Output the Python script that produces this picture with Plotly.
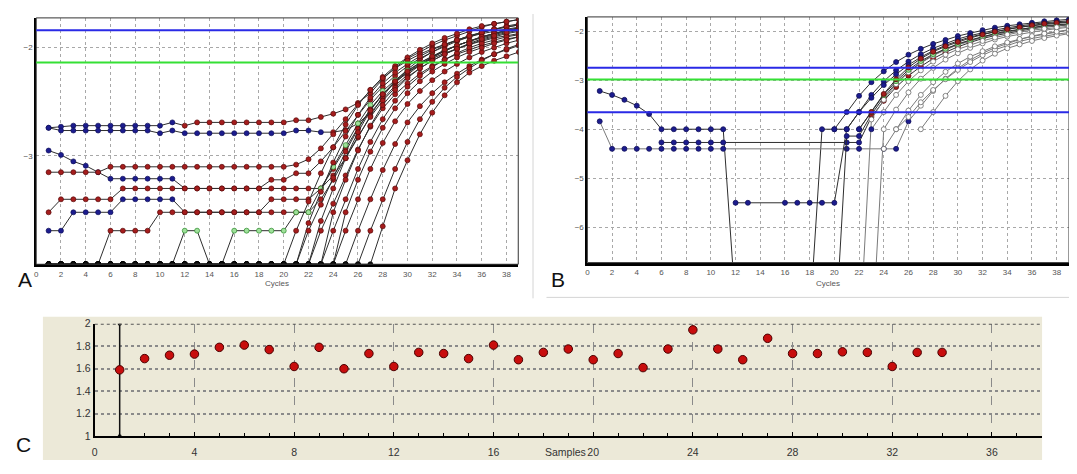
import plotly.graph_objects as go

# ---------------- DATA ----------------
cycles = list(range(1, 40))

# Panel A: log fluorescence per cycle (values at -4.0 lie on the bottom axis)
A1 = [-2.74, -2.73] + [-2.72] * 8 + [-2.69, -2.72] + [-2.69] * 8 + [-2.67, -2.67,
      -2.64, -2.61, -2.57, -2.51, -2.42, -2.29, -2.185, -2.10, -2.04, -1.98, -1.93, -1.89, -1.85, -1.81, -1.78, -1.76, -1.74]
A2 = [-2.74] + [-2.765] * 8 + [-2.79, -2.765] + [-2.79] * 9 + [-2.765, -2.765,
      -2.78, -2.78, -2.76, -2.70, -2.60, -2.47, -2.35, -2.25, -2.16, -2.09, -2.03, -1.98, -1.94, -1.90, -1.87, -1.84, -1.82]
A3 = [-2.95, -2.99, -3.05, -3.09, -3.15] + [-3.21] * 6 + [-3.30] * 12 + [
      -3.18, -3.02, -2.83, -2.63, -2.45, -2.31, -2.20, -2.11, -2.04, -1.98, -1.93, -1.89, -1.86, -1.83, -1.80, -1.78]
A4 = [-3.15] * 5 + [-3.10] * 15 + [-3.08, -3.03,
      -2.93, -2.80, -2.66, -2.52, -2.39, -2.27, -2.17, -2.09, -2.02, -1.96, -1.91, -1.87, -1.83, -1.80, -1.78, -1.76, -1.74]
A5 = [-3.52] + [-3.40] * 5 + [-3.30] * 12 + [-3.22, -3.22, -3.16, -3.16,
      -3.05, -2.92, -2.77, -2.62, -2.48, -2.36, -2.26, -2.17, -2.10, -2.04, -1.99, -1.94, -1.90, -1.86, -1.83, -1.81, -1.79]
A6 = [-3.69, -3.69] + [-3.52] * 4 + [-3.40] * 5 + [-3.52] * 7 + [-3.40] * 4 + [-3.30,
      -3.12, -2.93, -2.74, -2.57, -2.43, -2.32, -2.23, -2.15, -2.09, -2.03, -1.98, -1.94, -1.90, -1.87, -1.84, -1.82]
A7 = [-4.0] * 5 + [-3.69] * 4 + [-3.52] * 13 + [-3.40,
      -3.22, -3.02, -2.82, -2.64, -2.49, -2.37, -2.27, -2.19, -2.12, -2.06, -2.01, -1.97, -1.93, -1.90, -1.87, -1.85]
A8 = [-4.0] * 11 + [-3.69, -3.69, -4.0, -4.0] + [-3.69] * 5 + [-3.52, -3.52,
      -3.30, -3.10, -2.90, -2.70, -2.53, -2.40, -2.30, -2.21, -2.14, -2.08, -2.03, -1.98, -1.94, -1.91, -1.88, -1.85, -1.83]
A9 = [-4.0] * 20 + [-3.69, -3.42, -3.16, -2.92, -2.71, -2.53, -2.39, -2.28, -2.19, -2.12,
      -2.06, -2.01, -1.97, -1.93, -1.90, -1.87, -1.85, -1.83, -1.81]
A10 = [-4.0] * 21 + [-3.62, -3.33, -3.06, -2.82, -2.62, -2.46, -2.33, -2.23, -2.15, -2.08,
       -2.02, -1.97, -1.93, -1.89, -1.86, -1.83, -1.81, -1.79]
A11 = [-4.0] * 21 + [-3.69, -3.45, -3.20, -2.96, -2.75, -2.57, -2.43, -2.32, -2.23, -2.16,
       -2.10, -2.05, -2.01, -1.97, -1.94, -1.91, -1.89, -1.87]
A12 = [-4.0] * 22 + [-3.60, -3.30, -3.02, -2.78, -2.58, -2.43, -2.31, -2.22, -2.14, -2.08,
       -2.02, -1.98, -1.94, -1.90, -1.87, -1.84, -1.82]
A13 = [-4.0] * 22 + [-3.69, -3.44, -3.18, -2.94, -2.73, -2.56, -2.43, -2.33, -2.24, -2.17,
       -2.11, -2.06, -2.02, -1.98, -1.95, -1.92, -1.90]
A14 = [-4.0] * 23 + [-3.69, -3.40, -3.12, -2.87, -2.66, -2.49, -2.36, -2.26, -2.18, -2.11,
       -2.05, -2.00, -1.96, -1.93, -1.90, -1.88]
A15 = [-4.0] * 24 + [-3.69, -3.40, -3.12, -2.88, -2.68, -2.52, -2.40, -2.30, -2.22, -2.15,
       -2.09, -2.04, -2.00, -1.96, -1.93]
A16 = [-4.0] * 24 + [-3.52, -3.22, -2.96, -2.74, -2.56, -2.42, -2.31, -2.22, -2.15, -2.09,
       -2.04, -2.00, -1.96, -1.93, -1.90]
A17 = [-4.0] * 25 + [-3.69, -3.40, -3.13, -2.89, -2.69, -2.54, -2.42, -2.32, -2.24, -2.17,
       -2.11, -2.06, -2.02, -1.98]
A18 = [-4.0] * 26 + [-3.69, -3.40, -3.12, -2.87, -2.66, -2.50, -2.37, -2.27, -2.19, -2.12,
       -2.06, -2.01, -1.97]
A19 = [-4.0] * 27 + [-3.65, -3.30, -3.04, -2.80, -2.60, -2.44, -2.32, -2.23, -2.17, -2.12,
       -2.08, -2.04]
A20 = [-4.0] * 23 + [-3.52, -3.22, -2.95, -2.72, -2.53, -2.39, -2.28, -2.19, -2.12, -2.06,
       -2.01, -1.96, -1.92, -1.89, -1.86, -1.84]
A_curves = [A1, A2, A3, A4, A5, A6, A7, A8, A9, A10, A11, A12, A13, A14, A15, A16, A17, A18, A19, A20]
A_thresholds = {"blue": [-1.838], "green": [-2.137]}

# Panel B (None = no point; values below -6.7 are off the chart)
N = None
B1 = [-3.22, -3.30, -3.40, -3.52, -3.69] + [-4.0] * 6 + [-7.6, -7.8, -7.8, -7.8, -7.8, -7.8, -7.9] + [-4.0, -4.0,
      -3.65, -3.32, -3.04, -2.82, -2.63, -2.48, -2.36, -2.26, -2.18, -2.10, -2.04, -1.98, -1.93, -1.89, -1.86, -1.83, -1.80, -1.78, -1.76]
B2 = [-3.84] + [-4.40] * 10 + [N] * 9 + [-4.40, -4.40, N, -4.40, -4.40,
      -3.84, -3.52, -3.22, -2.97, -2.76, -2.59, -2.45, -2.34, -2.25, -2.17, -2.11, -2.06, -2.02, -1.98]
B3 = [N] * 5 + [-4.27] * 6 + [N] * 9 + [-4.27, -4.27,
      -3.75, -3.42, -3.14, -2.91, -2.72, -2.56, -2.43, -2.32, -2.23, -2.15, -2.09, -2.04, -1.99, -1.95, -1.92, -1.89, -1.87]
B4 = [N] * 11 + [-5.5, -5.5, N, N] + [-5.5] * 5 + [-4.0,
      -3.65, -3.30, -3.02, -2.80, -2.62, -2.47, -2.35, -2.25, -2.16, -2.09, -2.03, -1.98, -1.93, -1.89, -1.86, -1.83, -1.81, -1.79]
B5 = [N] * 19 + [-8.5, -4.14, -4.14,
      -3.70, -3.35, -3.06, -2.83, -2.64, -2.49, -2.37, -2.27, -2.19, -2.12, -2.06, -2.01, -1.97, -1.93, -1.90, -1.88, -1.86]
B6 = [N] * 21 + [-8.5,
      -3.80, -3.40, -3.08, -2.84, -2.65, -2.50, -2.38, -2.28, -2.20, -2.13, -2.07, -2.02, -1.98, -1.94, -1.91, -1.88, -1.86]
B7 = [N] * 22 + [-8.5,
      -4.0, -3.60, -3.25, -2.97, -2.75, -2.58, -2.45, -2.34, -2.25, -2.17, -2.11, -2.06, -2.02, -1.98, -1.95, -1.92]
B8 = [N] * 24 + [-4.0, -3.75, -3.45, -3.20, -2.98, -2.79, -2.63, -2.49, -2.38, -2.29, -2.21, -2.15, -2.10, -2.06, -2.03]
B9 = [N] * 26 + [-4.0, -3.65, -3.32, -3.02, -2.78, -2.60, -2.46, -2.35, -2.27, -2.20, -2.14, -2.09, -2.05]
B10 = [N] * 19 + [-4.0, -4.0, -3.65, -3.36, -3.10, -2.88, -2.69, -2.53, -2.40, -2.29, -2.20, -2.12, -2.06, -2.01,
       -1.96, -1.92, -1.89, -1.86, -1.84, -1.82]
B11 = [N] * 21 + [-4.0, -3.65, -3.30, -3.02, -2.79, -2.61, -2.47, -2.36, -2.26, -2.18, -2.11, -2.05, -2.00, -1.96,
       -1.92, -1.89, -1.87, -1.85]
B12 = [N] * 23 + [-4.40, -4.0, -3.62, -3.30, -3.04, -2.83, -2.66, -2.52, -2.41, -2.31, -2.23, -2.16, -2.10, -2.05,
       -2.01, -1.97]
B13 = [N] * 21 + [-4.0, -3.65, -3.28, -2.98, -2.74, -2.56, -2.42, -2.31, -2.22, -2.14, -2.07, -2.01, -1.96, -1.92,
       -1.88, -1.85, -1.83, -1.81]
B14 = [N] * 22 + [-4.0, -3.65, -3.30, -3.02, -2.80, -2.62, -2.48, -2.37, -2.28, -2.20, -2.13, -2.07, -2.02, -1.98,
       -1.95, -1.92, -1.90]
B_curves = [B1, B2, B3, B4, B5, B6, B7, B8, B9, B10, B11, B12, B13, B14]
B_thresholds = {"blue": [-2.748, -3.654], "green": [-2.986]}

# Panel C: efficiency per sample
samples = list(range(1, 35))
efficiency = [1.59, 1.69, 1.72, 1.73, 1.79, 1.81, 1.77, 1.62, 1.79, 1.60, 1.735, 1.62, 1.745, 1.735,
              1.69, 1.81, 1.68, 1.745, 1.775, 1.68, 1.735, 1.61, 1.775, 1.945, 1.775, 1.68, 1.87,
              1.735, 1.735, 1.75, 1.745, 1.62, 1.745, 1.745]
bar_sample = [1, 1]
bar_range = [1.0, 2.0]

A_xticks = list(range(0, 39, 2))
A_yticks = [-3, -2]
B_yticks = [-6, -5, -4, -3, -2]
C_xticks = list(range(0, 37, 4))
C_yticks = [1, 1.2, 1.4, 1.6, 1.8, 2]
C_yticktext = ["1", "1.2", "1.4", "1.6", "1.8", "2"]

# ---------------- STYLES ----------------
BLUE, RED, GREEN, WHITE, BLACK = "#1c1c8e", "#a51d1d", "#9fe09a", "#ffffff", "#111111"
OUTL = {BLUE: "#10105a", RED: "#5a0a0a", GREEN: "#2a8a2a", WHITE: "#6a6a6a", BLACK: "#000000"}
# (baseline colour, rising colour, first cycle drawn in rising colour)
A_styles = [(BLUE, RED, 12), (BLUE, RED, 24), (BLUE, RED, 12), (RED, RED, 1), (RED, RED, 1),
            (BLUE, RED, 12), (RED, RED, 1), (GREEN, GREEN, 1)] + [(RED, RED, 1)] * 12
B_styles = [(BLUE, BLUE, 1), (BLUE, WHITE, 27), (BLUE, RED, 23), (BLUE, BLUE, 1), (BLUE, RED, 23),
            (WHITE, WHITE, 1), (WHITE, WHITE, 1), (WHITE, WHITE, 1), (WHITE, WHITE, 1), (BLUE, BLUE, 1),
            (BLUE, GREEN, 23), (WHITE, WHITE, 1), (BLUE, RED, 23), (BLUE, WHITE, 24)]

FONT = "Liberation Sans"
OFF = 8                      # default body margin of the html page (all four sides)
W, H = 1077 - 2 * OFF, 474 - 2 * OFF


def px(x):
    return min(1.0, max(0.0, (x - OFF) / W))


def py(y):
    return min(1.0, max(0.0, 1 - (y - OFF) / H))


fig = go.Figure()

# Panel A traces
for vals, (bc, rc, sw) in zip(A_curves, A_styles):
    cols = []
    for c, v in zip(cycles, vals):
        if v is not None and v <= -3.99:
            cols.append(BLACK)
        elif c < sw:
            cols.append(bc)
        else:
            cols.append(rc)
    fig.add_trace(go.Scatter(
        x=cycles, y=vals, mode="lines+markers", xaxis="x", yaxis="y",
        line=dict(color="#2e2e2e", width=1),
        marker=dict(size=5, color=cols, line=dict(width=0.7, color=[OUTL[c] for c in cols])),
        showlegend=False, hoverinfo="skip"))

# Panel B traces
for vals, (bc, rc, sw) in zip(B_curves, B_styles):
    cols = []
    for c, v in zip(cycles, vals):
        if v is not None and v <= -3.99:
            cols.append(BLUE if bc != WHITE else WHITE)
        elif c < sw:
            cols.append(bc)
        else:
            cols.append(rc)
    lc = "#7a7a7a" if rc == WHITE else "#2e2e2e"
    fig.add_trace(go.Scatter(
        x=cycles, y=vals, mode="lines+markers", xaxis="x2", yaxis="y2", connectgaps=True,
        line=dict(color=lc, width=1),
        marker=dict(size=5, color=cols, line=dict(width=0.8, color=[OUTL[c] for c in cols])),
        showlegend=False, hoverinfo="skip"))

# Panel C traces
fig.add_trace(go.Scatter(x=bar_sample, y=bar_range, mode="lines+markers", xaxis="x3", yaxis="y3",
                         line=dict(color="#111", width=1.5), marker=dict(size=4, color="#111"),
                         showlegend=False, hoverinfo="skip"))
fig.add_trace(go.Scatter(x=samples, y=efficiency, mode="markers", xaxis="x3", yaxis="y3",
                         marker=dict(size=8.5, color="#c80d0d", line=dict(width=1, color="#4a0000")),
                         showlegend=False, hoverinfo="skip"))

shapes = []
# beige background of panel C
shapes.append(dict(type="rect", xref="paper", yref="paper", x0=px(40), x1=px(1042), y0=py(474), y1=py(319),
                   fillcolor="#ECE9D8", line=dict(width=0), layer="below"))
# separator lines
shapes.append(dict(type="line", xref="paper", yref="paper", x0=px(531.5), x1=px(531.5), y0=py(300), y1=1,
                   line=dict(color="#d4d4d4", width=1)))
shapes.append(dict(type="line", xref="paper", yref="paper", x0=px(545), x1=1, y0=py(299), y1=py(299),
                   line=dict(color="#d4d4d4", width=1)))
# frames for A and B
for ax in ["", "2"]:
    shapes.append(dict(type="rect", xref="x%s domain" % ax, yref="y%s domain" % ax, x0=0, x1=1, y0=0, y1=1,
                       line=dict(color="#333", width=1)))
# threshold lines
for ax, th in [("", A_thresholds), ("2", B_thresholds)]:
    for name, col in [("blue", "#2a2ae6"), ("green", "#35e035")]:
        for v in th[name]:
            shapes.append(dict(type="line", xref="x%s domain" % ax, yref="y%s" % ax, x0=0, x1=1, y0=v, y1=v,
                               line=dict(color=col, width=2)))
# top line of C
shapes.append(dict(type="line", xref="x3 domain", yref="y3", x0=0, x1=1, y0=2, y1=2,
                   line=dict(color="#555", width=2, dash="dot")))

tickfont_small = dict(family=FONT, size=8, color="#555")
grid_ab = dict(showgrid=True, gridcolor="#a8a8a8", griddash="dot", gridwidth=1, zeroline=False, ticks="",
               showline=True, linecolor="#000", tickfont=tickfont_small)


def label(text, x, y, size, color="#111", yanchor="middle"):
    return dict(text=text, x=px(x), y=py(y) if yanchor == "middle" else 0, xref="paper", yref="paper",
                showarrow=False, xanchor="center", yanchor=yanchor,
                font=dict(family=FONT, size=size, color=color))


annotations = [
    label("A", 22, 281, 21),
    label("B", 557, 281, 21),
    label("C", 21, 450, 21),
    label("Cycles", 275, 285, 8, "#555"),
    label("Cycles", 827, 285, 8, "#555"),
    label("Samples", 564, 0, 10.5, "#333", yanchor="bottom"),
]

fig.update_layout(
    width=W, height=H, autosize=False,
    margin=dict(l=0, r=0, t=0, b=0, pad=0),
    paper_bgcolor="white", plot_bgcolor="rgba(0,0,0,0)",
    showlegend=False,
    shapes=shapes, annotations=annotations,
    xaxis=dict(domain=[px(33.3), px(516.7)], range=[0, 38.95], anchor="y", tickvals=A_xticks,
               linewidth=2.5, **grid_ab),
    yaxis=dict(domain=[py(265), py(12)], range=[-4.0, -1.725], anchor="x", tickvals=A_yticks,
               linewidth=2, **grid_ab),
    xaxis2=dict(domain=[px(586), px(1069.3)], range=[0, 39], anchor="y2", tickvals=A_xticks,
                linewidth=2.5, **grid_ab),
    yaxis2=dict(domain=[py(263.3), py(11)], range=[-6.72, -1.71], anchor="x2", tickvals=B_yticks,
                linewidth=2, **grid_ab),
    xaxis3=dict(domain=[px(92), px(1041.7)], range=[0, 38], anchor="y3", tickvals=C_xticks,
                showgrid=True, gridcolor="#8a8a8a", griddash="dash", gridwidth=1, zeroline=False,
                showline=True, linecolor="#000", linewidth=2, ticks="inside", ticklen=4, tickcolor="#000",
                minor=dict(dtick=1, ticks="inside", ticklen=3, tickcolor="#000", showgrid=False),
                ticklabelstandoff=5,
                tickfont=dict(family=FONT, size=10.5, color="#333")),
    yaxis3=dict(domain=[py(441.7), py(326)], range=[1, 2], anchor="x3", tickvals=C_yticks,
                ticktext=C_yticktext, showgrid=True, gridcolor="#8a8a8a", griddash="dot", gridwidth=1.5,
                zeroline=False, showline=True, linecolor="#000", linewidth=2, ticks="",
                tickfont=dict(family=FONT, size=10.5, color="#333")),
)

fig.write_html("out.html")
